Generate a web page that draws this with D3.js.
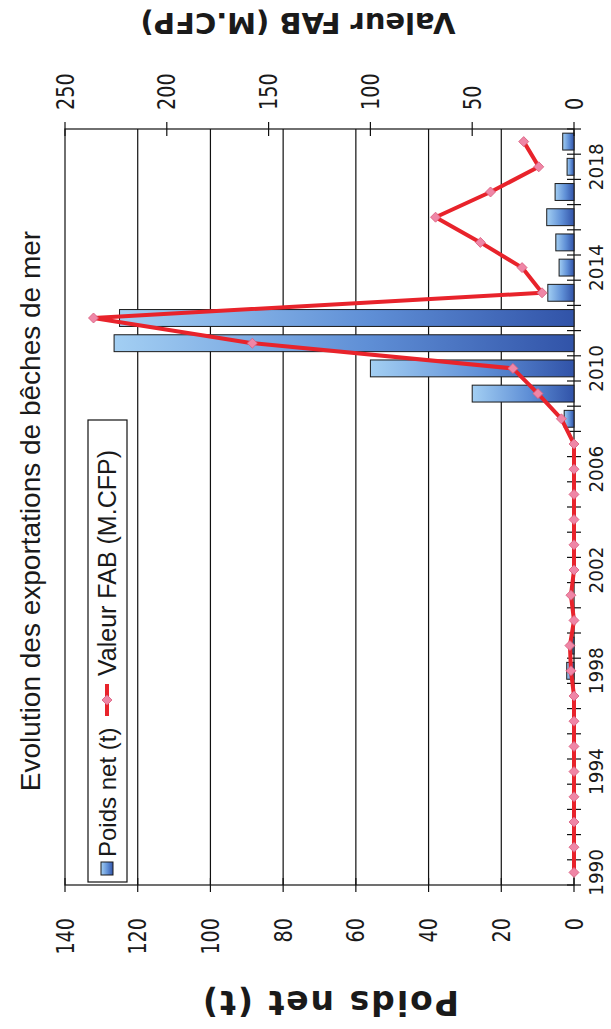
<!DOCTYPE html>
<html>
<head>
<meta charset="utf-8">
<script src="https://cdn.jsdelivr.net/npm/d3@7"></script>
<style>
  body { margin: 0; background: #ffffff; }
  svg { display: block; }
</style>
</head>
<body>
<svg id="chart" width="611" height="1029"></svg>
<script>
// Sea cucumber (bêches de mer) exports, 1990–2019
const years = [1990, 1991, 1992, 1993, 1994, 1995, 1996, 1997, 1998, 1999,
               2000, 2001, 2002, 2003, 2004, 2005, 2006, 2007, 2008, 2009,
               2010, 2011, 2012, 2013, 2014, 2015, 2016, 2017, 2018, 2019];
// Net weight, tonnes
const poidsNet = [0, 0, 0, 0, 0, 0, 0, 0, 2, 0.5,
                  0, 0, 0, 0, 0, 0, 0, 0, 2.7, 28,
                  56, 126.5, 125, 7.2, 4.1, 5, 7.5, 5.2, 1.9, 3.1];
// FOB value, millions of CFP francs
const valeurFAB = [0, 0, 0, 0, 0, 0, 0, 0, 1.5, 2,
                   0, 1.5, 0, 0, 0, 0, 0, 0, 6.2, 17.7,
                   30, 158, 236, 15.7, 25.5, 46, 68, 41, 17.3, 24.7];
const poidsTicks = [0, 20, 40, 60, 80, 100, 120, 140];
const valeurTicks = [0, 50, 100, 150, 200, 250];
const yearLabels = [1990, 1994, 1998, 2002, 2006, 2010, 2014, 2018];

const titleText = "Evolution des exportations de bêches de mer";
const poidsTitle = "Poids net (t)";
const valeurTitle = "Valeur FAB (M.CFP)";

const svg = d3.select("#chart");
const plot = { left: 65, right: 574, top: 129, bottom: 885 };

// The chart is laid out turned a quarter turn: years run bottom→top,
// values grow leftwards from the year axis.
const y = d3.scaleBand().domain(years)
  .range([plot.bottom, plot.top]).paddingInner(0.33).paddingOuter(0.165);
const xP = d3.scaleLinear().domain([0, 140]).range([plot.right, plot.left]);
const xV = d3.scaleLinear().domain([0, 250]).range([plot.right, plot.left]);
const bw = y.bandwidth();
const step = y.step();

// gradients
const defs = svg.append("defs");
const grad = defs.append("linearGradient").attr("id", "barGrad")
  .attr("x1", 0).attr("y1", 0).attr("x2", 1).attr("y2", 0);
grad.append("stop").attr("offset", 0).attr("stop-color", "#a3cff3");
grad.append("stop").attr("offset", 0.55).attr("stop-color", "#5f8fd6");
grad.append("stop").attr("offset", 1).attr("stop-color", "#3153a8");

// plot frame and gridlines
const g = svg.append("g");
g.selectAll("line.grid").data(poidsTicks.slice(1, -1)).join("line")
  .attr("class", "grid")
  .attr("x1", d => xP(d)).attr("x2", d => xP(d))
  .attr("y1", plot.top).attr("y2", plot.bottom)
  .attr("stroke", "#111").attr("stroke-width", 1.2);
g.append("rect")
  .attr("x", plot.left).attr("y", plot.top)
  .attr("width", plot.right - plot.left).attr("height", plot.bottom - plot.top)
  .attr("fill", "none").attr("stroke", "#111").attr("stroke-width", 1.2);

// bars
g.selectAll("rect.bar").data(years.map((yr, i) => ({ yr, v: poidsNet[i] })).filter(d => d.v > 0))
  .join("rect").attr("class", "bar")
  .attr("x", d => xP(d.v)).attr("y", d => y(d.yr))
  .attr("width", d => xP(0) - xP(d.v)).attr("height", bw)
  .attr("fill", "url(#barGrad)").attr("stroke", "#1a1a1a").attr("stroke-width", 1);

// axes ticks
const tk = 7;
// year axis (right)
const bounds = years.map(yr => y(yr) - (step - bw) / 2).concat([plot.bottom]);
g.selectAll("line.ytick").data(bounds).join("line").attr("class", "ytick")
  .attr("x1", plot.right - tk).attr("x2", plot.right + tk)
  .attr("y1", d => d).attr("y2", d => d)
  .attr("stroke", "#111").attr("stroke-width", 1.2);
// weight axis (bottom)
g.selectAll("line.ptick").data(poidsTicks).join("line").attr("class", "ptick")
  .attr("x1", d => xP(d)).attr("x2", d => xP(d))
  .attr("y1", plot.bottom - tk).attr("y2", plot.bottom + tk)
  .attr("stroke", "#111").attr("stroke-width", 1.2);
// value axis (top)
g.selectAll("line.vtick").data(valeurTicks).join("line").attr("class", "vtick")
  .attr("x1", d => xV(d)).attr("x2", d => xV(d))
  .attr("y1", plot.top - tk).attr("y2", plot.top + tk)
  .attr("stroke", "#111").attr("stroke-width", 1.2);

// value line
const pts = years.map((yr, i) => ({ yr, v: valeurFAB[i] }));
const line = d3.line().x(d => xV(d.v)).y(d => y(d.yr) + bw / 2);
g.append("path").datum(pts).attr("d", line)
  .attr("fill", "none").attr("stroke", "#e8232b").attr("stroke-width", 4)
  .attr("stroke-linejoin", "round");
const diamond = d3.symbol().type(d3.symbolSquare).size(50);
g.selectAll("path.mk").data(pts).join("path").attr("class", "mk")
  .attr("d", diamond)
  .attr("transform", d => `translate(${xV(d.v)},${y(d.yr) + bw / 2}) rotate(45)`)
  .attr("fill", "#ef86a6").attr("stroke", "#d9607f").attr("stroke-width", 0.8);

// compress text along its run to match the narrow lettering
function condense(sel, k) {
  sel.each(function () {
    const L = this.getComputedTextLength();
    this.setAttribute("textLength", (L * k).toFixed(1));
    this.setAttribute("lengthAdjust", "spacingAndGlyphs");
  });
}

const tickFont = "'DejaVu Sans', Verdana, sans-serif";
// year labels
const yl = g.selectAll("text.yl").data(yearLabels).join("text").attr("class", "yl")
  .attr("transform", d => `translate(596,${y(d) + bw / 2}) rotate(-90)`)
  .attr("dy", "0.36em").attr("text-anchor", "middle")
  .attr("font-family", tickFont).attr("font-size", 20).attr("fill", "#1a1a1a")
  .text(d => d);
condense(yl, 0.92);
// weight labels
const pl = g.selectAll("text.pl").data(poidsTicks).join("text").attr("class", "pl")
  .attr("transform", d => `translate(${xP(d)},918) rotate(-90)`)
  .attr("dy", "0.36em").attr("text-anchor", "end")
  .attr("font-family", tickFont).attr("font-size", 24).attr("fill", "#1a1a1a")
  .text(d => d);
condense(pl, 0.8);
// value labels
const vl = g.selectAll("text.vl").data(valeurTicks).join("text").attr("class", "vl")
  .attr("transform", d => `translate(${xV(d)},110) rotate(-90)`)
  .attr("dy", "0.36em").attr("text-anchor", "start")
  .attr("font-family", tickFont).attr("font-size", 24).attr("fill", "#1a1a1a")
  .text(d => d);
condense(vl, 0.8);

// axis titles (upside down)
svg.append("text").attr("transform", "translate(298,13) rotate(180)")
  .attr("text-anchor", "middle").attr("font-family", tickFont)
  .attr("font-weight", "bold").attr("font-size", 29).attr("fill", "#1a1a1a")
  .text(valeurTitle);
svg.append("text").attr("transform", "translate(330,991) rotate(180)")
  .attr("text-anchor", "middle").attr("font-family", tickFont)
  .attr("font-weight", "bold").attr("font-size", 33).attr("letter-spacing", 2)
  .attr("fill", "#1a1a1a")
  .text(poidsTitle);

// chart title
svg.append("text").attr("transform", "translate(40,511) rotate(-90)")
  .attr("text-anchor", "middle").attr("font-family", "'Liberation Sans', Arial, sans-serif")
  .attr("font-size", 28).attr("fill", "#1a1a1a")
  .text(titleText);

// legend
const lg = svg.append("g");
lg.append("rect").attr("x", 88).attr("y", 420).attr("width", 39).attr("height", 462)
  .attr("fill", "#fff").attr("stroke", "#111").attr("stroke-width", 1.2);
lg.append("rect").attr("x", 101).attr("y", 862).attr("width", 12).attr("height", 13)
  .attr("fill", "url(#barGrad)").attr("stroke", "#1a1a1a");
lg.append("text").attr("transform", "translate(116,857) rotate(-90)")
  .attr("font-family", "'Liberation Sans', Arial, sans-serif").attr("font-size", 24)
  .attr("fill", "#1a1a1a").text(poidsTitle);
lg.append("line").attr("x1", 107).attr("x2", 107).attr("y1", 716).attr("y2", 684)
  .attr("stroke", "#e8232b").attr("stroke-width", 4);
lg.append("path").attr("d", diamond).attr("transform", "translate(107,700) rotate(45)")
  .attr("fill", "#ef86a6").attr("stroke", "#d9607f").attr("stroke-width", 0.8);
lg.append("text").attr("transform", "translate(116,676) rotate(-90)")
  .attr("font-family", "'Liberation Sans', Arial, sans-serif").attr("font-size", 25)
  .attr("fill", "#1a1a1a").text(valeurTitle);
</script>
</body>
</html>
